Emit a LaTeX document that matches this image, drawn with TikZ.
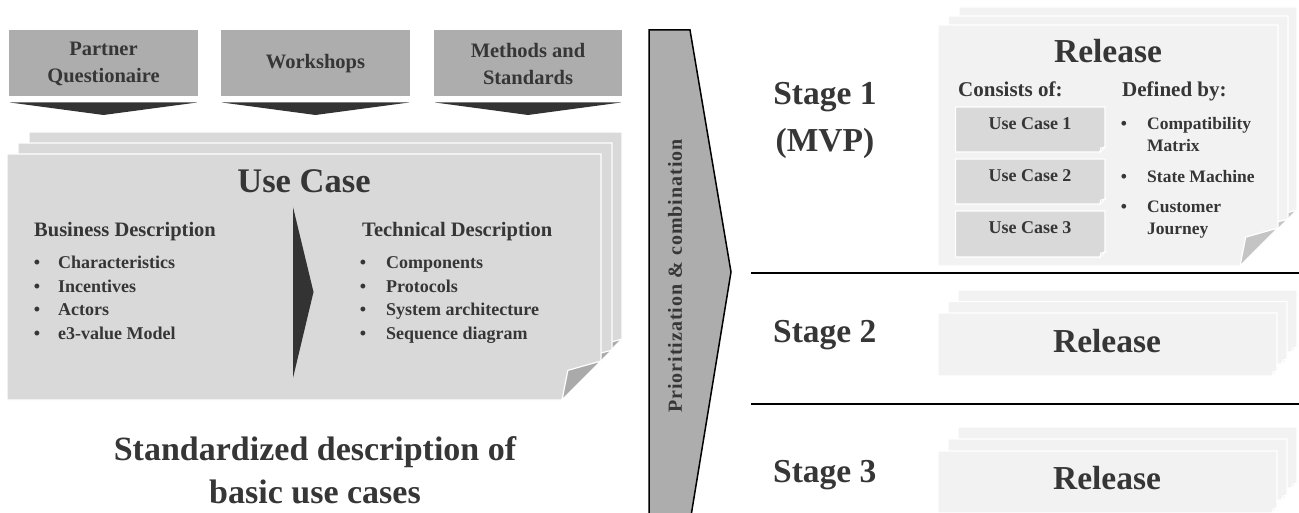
\documentclass[tikz,border=0pt]{standalone}
\usepackage{fontspec}
\setmainfont{Liberation Serif}
\definecolor{txt}{HTML}{363636}
\definecolor{topgray}{HTML}{ADADAD}
\definecolor{ucgray}{HTML}{D9D9D9}
\definecolor{relgray}{HTML}{F2F2F2}
\definecolor{darkg}{HTML}{333333}
\definecolor{flapd}{HTML}{AAAAAA}
\definecolor{flapl}{HTML}{C4C4C4}
\newcommand\fpage[7]{%
  \filldraw[fill=#6, draw=white, line width=1.2pt] (#1,#2) -- (#3,#2) -- (#3,{#4-#5}) -- ({#3-#5},#4) -- (#1,#4) -- cycle;
  \filldraw[fill=#7, draw=white, line width=1.2pt] (#3,{#4-#5}) -- ({#3-#5},#4) -- ({#3-0.85*#5},{#4-0.76*#5}) -- cycle;}
\tikzset{
  lbl/.style={text=txt, font=\bfseries, inner sep=0pt},
  topbox/.style={fill=topgray, draw=none},
  toptri/.style={fill=darkg},
  stageline/.style={draw=black, line width=2.5pt},
}
\begin{document}
\begin{tikzpicture}[x=1pt,y=-1pt]
\useasboundingbox (0,0) rectangle (1299,513);
% top source boxes
\fill[topbox] (9,30) rectangle (198,96);
\fill[topbox] (221,30) rectangle (410,96);
\fill[topbox] (434,30) rectangle (622,96);
\node[lbl, align=center, font=\bfseries\fontsize{20.5}{27}\selectfont] (src1) at (103.5,64) {Partner\\Questionaire};
\node[lbl, align=center, font=\bfseries\fontsize{20.5}{27}\selectfont] (src2) at (315.5,64) {Workshops};
\node[lbl, align=center, font=\bfseries\fontsize{20.5}{27}\selectfont] (src3) at (528,64) {Methods and\\Standards};
\fill[toptri] (10,102.5) -- (197,102.5) -- (103.5,115) -- cycle;
\fill[toptri] (222,102.5) -- (409,102.5) -- (315.5,115) -- cycle;
\fill[toptri] (435,102.5) -- (621,102.5) -- (528,115) -- cycle;
% use case pages
\fpage{29}{132}{622}{378}{39}{ucgray}{flapd}
\fpage{18}{143}{612}{389}{39}{ucgray}{flapd}
\fpage{7}{154}{601}{400}{39}{ucgray}{flapd}
\node[lbl, anchor=base, font=\bfseries\fontsize{34.5}{34.5}\selectfont] (uc) at (304,193) {Use Case};
\node[lbl, anchor=base west, font=\bfseries\fontsize{20.5}{20.5}\selectfont] (bd) at (34,237) {Business Description};
\node[lbl, anchor=base west, font=\bfseries\fontsize{20.5}{20.5}\selectfont] (td) at (362,237) {Technical Description};
\fill[darkg] (293,207) -- (313.5,292) -- (293,378) -- cycle;
\foreach \t [count=\i] in {Characteristics,Incentives,Actors,e3-value Model}{
  \node[lbl, anchor=base, font=\bfseries\fontsize{18}{18}\selectfont] (bb\i) at (37,{245.5+23.5*\i}) {•};
  \node[lbl, anchor=base west, font=\bfseries\fontsize{18}{18}\selectfont] (bt\i) at (58,{245.5+23.5*\i}) {\t};
}
\foreach \t [count=\i] in {Components,Protocols,System architecture,Sequence diagram}{
  \node[lbl, anchor=base, font=\bfseries\fontsize{18}{18}\selectfont] (tb\i) at (363,{245.5+23.5*\i}) {•};
  \node[lbl, anchor=base west, font=\bfseries\fontsize{18}{18}\selectfont] (tt\i) at (386,{245.5+23.5*\i}) {\t};
}
\node[lbl, anchor=base, font=\bfseries\fontsize{34}{34}\selectfont] (std1) at (315,460) {Standardized description of};
\node[lbl, anchor=base, font=\bfseries\fontsize{34}{34}\selectfont] (std2) at (315,503) {basic use cases};
% prioritization bar
\filldraw[fill=topgray, draw=black, line width=1.5pt] (649,30) -- (690,30) -- (731,272) -- (691,516) -- (649,516) -- cycle;
\node[lbl, rotate=90, font=\bfseries\fontsize{20}{20}\selectfont\addfontfeature{LetterSpace=5}] (prio) at (675,276) {Prioritization \& combination};
% stage lines
\draw[stageline] (751,273) -- (1299,273);
\draw[stageline] (751,404) -- (1299,404);
% stage 1
\node[lbl, anchor=base, font=\bfseries\fontsize{33.5}{33.5}\selectfont] (s1) at (825,105) {Stage 1};
\node[lbl, anchor=base, font=\bfseries\fontsize{33.5}{33.5}\selectfont] (mvp) at (825,152) {(MVP)};
\fpage{959}{7}{1297}{248}{38}{relgray}{flapl}
\fpage{948.5}{16}{1288}{257}{38}{relgray}{flapl}
\fpage{938}{25}{1278}{266}{38}{relgray}{flapl}
\node[lbl, anchor=base, font=\bfseries\fontsize{33.5}{33.5}\selectfont] (rel1) at (1108,63) {Release};
\node[lbl, anchor=base west, font=\bfseries\fontsize{21}{21}\selectfont] (cons) at (958,97) {Consists of:};
\node[lbl, anchor=base west, font=\bfseries\fontsize{21}{21}\selectfont] (defb) at (1122,97) {Defined by:};
\fpage{955.5}{107}{1105}{152}{5}{ucgray}{flapd}
\fpage{955.5}{159}{1105}{204}{5}{ucgray}{flapd}
\fpage{955.5}{211}{1105}{257}{5}{ucgray}{flapd}
\node[lbl, anchor=base, font=\bfseries\fontsize{18}{18}\selectfont] (u1) at (1030,130) {Use Case 1};
\node[lbl, anchor=base, font=\bfseries\fontsize{18}{18}\selectfont] (u2) at (1030,182) {Use Case 2};
\node[lbl, anchor=base, font=\bfseries\fontsize{18}{18}\selectfont] (u3) at (1030,234) {Use Case 3};
\node[lbl, anchor=base, font=\bfseries\fontsize{17.5}{17.5}\selectfont] (db1) at (1124,130) {•};
\node[lbl, anchor=base west, font=\bfseries\fontsize{17.5}{17.5}\selectfont] (dt1) at (1147,130) {Compatibility};
\node[lbl, anchor=base west, font=\bfseries\fontsize{17.5}{17.5}\selectfont] (dt1b) at (1147,152) {Matrix};
\node[lbl, anchor=base, font=\bfseries\fontsize{17.5}{17.5}\selectfont] (db2) at (1124,183) {•};
\node[lbl, anchor=base west, font=\bfseries\fontsize{17.5}{17.5}\selectfont] (dt2) at (1147,183) {State Machine};
\node[lbl, anchor=base, font=\bfseries\fontsize{17.5}{17.5}\selectfont] (db3) at (1124,213) {•};
\node[lbl, anchor=base west, font=\bfseries\fontsize{17.5}{17.5}\selectfont] (dt3) at (1147,213) {Customer};
\node[lbl, anchor=base west, font=\bfseries\fontsize{17.5}{17.5}\selectfont] (dt3b) at (1147,235) {Journey};
% stage 2
\node[lbl, anchor=base west, font=\bfseries\fontsize{33.5}{33.5}\selectfont] (s2) at (773,342) {Stage 2};
\fpage{958}{290}{1297}{352}{5}{relgray}{flapl}
\fpage{948}{301.5}{1287}{364}{5}{relgray}{flapl}
\fpage{938}{313}{1277}{376}{5}{relgray}{flapl}
\node[lbl, anchor=base, font=\bfseries\fontsize{33.5}{33.5}\selectfont] (rel2) at (1107,352) {Release};
% stage 3
\node[lbl, anchor=base west, font=\bfseries\fontsize{33.5}{33.5}\selectfont] (s3) at (773,482) {Stage 3};
\fpage{958}{427}{1297}{488}{5}{relgray}{flapl}
\fpage{948}{439}{1287}{500}{5}{relgray}{flapl}
\fpage{938}{451}{1277}{513}{5}{relgray}{flapl}
\node[lbl, anchor=base, font=\bfseries\fontsize{33.5}{33.5}\selectfont] (rel3) at (1107,489) {Release};
\end{tikzpicture}
\end{document}
